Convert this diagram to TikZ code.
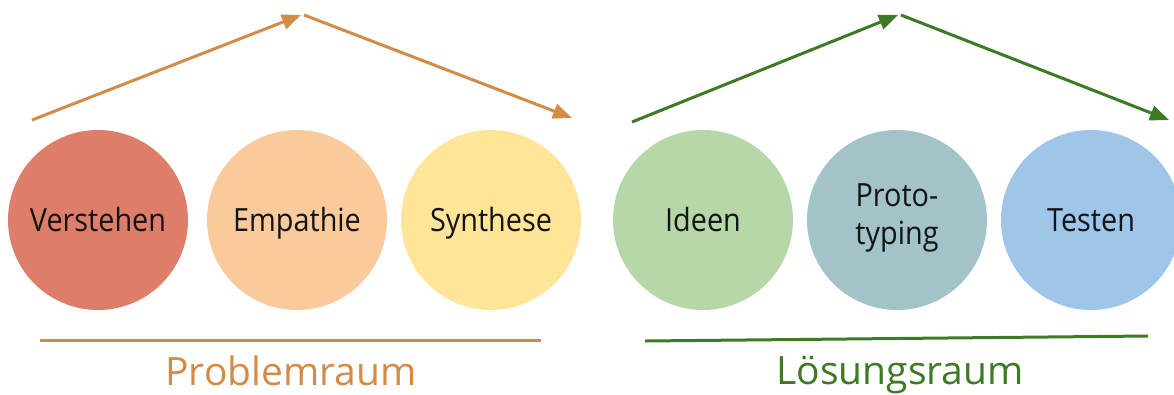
\documentclass[tikz,border=0pt]{standalone}
\usepackage{fontspec}
\setmainfont{Open Sans}
\newfontfamily\phasefont{Open Sans}[FakeStretch=0.9]
\usetikzlibrary{arrows.meta}
\definecolor{cVerstehen}{HTML}{DD7E6B}
\definecolor{cEmpathie}{HTML}{F9CB9C}
\definecolor{cSynthese}{HTML}{FFE599}
\definecolor{cIdeen}{HTML}{B6D7A8}
\definecolor{cProto}{HTML}{A2C4C9}
\definecolor{cTesten}{HTML}{9FC5E8}
\definecolor{problem}{HTML}{D38B45}
\definecolor{loesung}{HTML}{3D7A25}
\tikzset{
  phase/.style={circle, minimum size=180pt, inner sep=0pt, text=black!92,
    font=\phasefont\fontsize{32}{38}\selectfont, align=center,
    text height=23pt, text depth=0pt},
  flow/.style={line width=3pt, -{Triangle[length=19pt,width=15pt]}},
  baseline rule/.style={line width=3pt},
  space label/.style={font=\fontsize{39}{44}\selectfont, anchor=base}
}
\begin{document}
\begin{tikzpicture}[x=1pt,y=-1pt]
\useasboundingbox (0,0) rectangle (1174,394);

% phases of the problem space
\node[phase, fill=cVerstehen] (verstehen) at (98,220) {Verstehen};
\node[phase, fill=cEmpathie]  (empathie)  at (297,220) {Empathie};
\node[phase, fill=cSynthese]  (synthese)  at (491,220) {Synthese};

% phases of the solution space
\node[phase, fill=cIdeen]  (ideen)  at (703,220) {Ideen};
\node[phase, fill=cProto, text height=61pt, text depth=12pt] (proto) at (897,220) {Proto-\\typing};
\node[phase, fill=cTesten] (testen) at (1091,220) {Testen};

% rising and falling arrows above each space
\coordinate (pA) at (32,120);
\coordinate (pB) at (301,15);
\coordinate (pC) at (304,15);
\coordinate (pD) at (572,118);
\draw[flow, problem] (pA) -- (pB);
\draw[flow, problem] (pC) -- (pD);

\coordinate (lA) at (632,122);
\coordinate (lB) at (898,15);
\coordinate (lC) at (901,15);
\coordinate (lD) at (1169,120);
\draw[flow, loesung] (lA) -- (lB);
\draw[flow, loesung] (lC) -- (lD);

% underlines and space labels
\coordinate (pL) at (40,340);
\coordinate (pR) at (541,340);
\draw[baseline rule, problem] (pL) -- (pR);
\node[space label, text=problem] (problemraum) at (291,385) {Problemraum};

\coordinate (lL) at (645,341);
\coordinate (lR) at (1148,336);
\draw[baseline rule, loesung] (lL) -- (lR);
\node[space label, text=loesung] (loesungsraum) at (900,384) {Lösungsraum};
\end{tikzpicture}
\end{document}
